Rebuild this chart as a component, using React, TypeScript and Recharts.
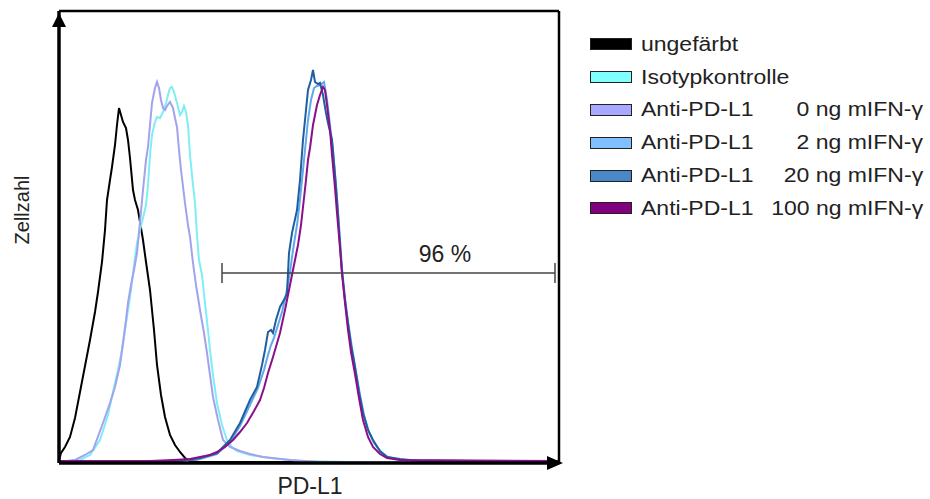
import React from "react";
import {
  LineChart,
  Line,
  XAxis,
  YAxis,
  ReferenceLine,
  ReferenceDot,
  Legend
} from "recharts";

type Pt = [number, number];

// channel (0-1000) vs. cell count
const ungefaerbt: Pt[] = [
  [0, 1.5], [4, 5], [12, 8], [22, 13], [32, 22.5], [42, 35.5], [52, 48.5], [62, 61.5],
  [72, 75.5], [78, 85.5], [86, 100.5], [92, 116.5], [96, 131.5], [102, 141.5], [106, 148],
  [112, 159], [116, 169], [120, 177.5], [124, 174], [128, 170.5], [134, 167.5], [138, 161.5],
  [142, 152.5], [148, 136.5], [152, 131.5], [158, 126.5], [164, 117.5], [168, 111.5],
  [174, 100.5], [182, 86.5], [190, 66.5], [196, 49], [204, 34], [212, 23], [222, 14],
  [232, 9], [242, 5.5], [252, 2.5], [262, 1], [282, 0.5], [1000, 0.3]
];

const isotyp: Pt[] = [
  [0, 0.5], [42, 1.5], [62, 4], [82, 11.5], [98, 24], [108, 35.5], [118, 46.5], [126, 56.5],
  [132, 66.5], [138, 76.5], [144, 86.5], [150, 99], [156, 110], [162, 116.5], [168, 122.5],
  [174, 129], [178, 139], [182, 154], [186, 164], [192, 170.5], [196, 173], [202, 172.5],
  [208, 175.5], [214, 180], [218, 184], [222, 187.5], [226, 188], [230, 185.5], [236, 180],
  [242, 174], [246, 175.5], [250, 178.5], [254, 175.5], [258, 169], [262, 154], [268, 139],
  [272, 130], [276, 114], [280, 101.5], [286, 94], [292, 80], [298, 66.5], [302, 56.5],
  [308, 44], [316, 30], [326, 19], [336, 11.5], [346, 8], [356, 6], [382, 4], [422, 2.5],
  [482, 1], [582, 0.5], [1000, 0.3]
];

const dose0: Pt[] = [
  [0, 0.5], [32, 1.5], [52, 4], [68, 6.5], [88, 20], [102, 30], [112, 38], [122, 49],
  [128, 60], [134, 71.5], [138, 80], [144, 89], [150, 96.5], [156, 105], [162, 120.5],
  [168, 136.5], [174, 151.5], [178, 158], [182, 169], [186, 180], [192, 187.5], [196, 190.5],
  [200, 187.5], [204, 181.5], [208, 177.5], [212, 176.5], [216, 178.5], [222, 180.5],
  [228, 177.5], [232, 172.5], [236, 168], [240, 156.5], [244, 146.5], [252, 130], [258, 119],
  [262, 113], [268, 100], [274, 89], [282, 76.5], [290, 65], [296, 55], [302, 44], [308, 33],
  [318, 21.5], [328, 11.5], [342, 8], [362, 6], [382, 4.5], [408, 3], [462, 1.5], [522, 0.5],
  [1000, 0.3]
];

const dose2: Pt[] = [
  [0, 0.5], [202, 0.5], [282, 2], [316, 4.5], [342, 10.5], [362, 18.5], [382, 29], [398, 37.5],
  [410, 46.5], [418, 54], [424, 59], [430, 62.5], [438, 69], [446, 75.5], [454, 84], [462, 95.5],
  [468, 106.5], [476, 119], [482, 131.5], [490, 151.5], [498, 171.5], [504, 181.5], [510, 187.5],
  [516, 188.5], [522, 189], [530, 190.5], [536, 181.5], [542, 169], [548, 156.5], [554, 139],
  [560, 119], [566, 97.5], [572, 82.5], [578, 70.5], [586, 57.5], [594, 45.5], [602, 34],
  [610, 24], [620, 15.5], [630, 10], [644, 5.5], [658, 3], [682, 1.5], [1000, 0.5]
];

const dose20: Pt[] = [
  [0, 0.5], [182, 0.5], [242, 1], [282, 2.5], [316, 5], [342, 11.5], [362, 20], [382, 31.5],
  [396, 38], [406, 49], [412, 56.5], [418, 65.5], [424, 66.5], [428, 65], [434, 71.5], [442, 78],
  [452, 82.5], [456, 85], [458, 95], [460, 105], [466, 115], [476, 126.5], [482, 141.5],
  [488, 161.5], [494, 176.5], [498, 186.5], [504, 191.5], [508, 196.5], [512, 190.5],
  [518, 189.5], [522, 190], [528, 184], [534, 175], [538, 170], [546, 161.5], [552, 144],
  [556, 131.5], [562, 109], [566, 95], [572, 81.5], [578, 70], [584, 59], [592, 48], [600, 35.5],
  [608, 25], [618, 16.5], [628, 11.5], [642, 6], [656, 3], [682, 2], [722, 1], [1000, 0.5]
];

const dose100: Pt[] = [
  [0, 1], [182, 1], [228, 1.5], [262, 2], [282, 3], [302, 4], [316, 5.5], [332, 8], [348, 11.5],
  [362, 15.5], [376, 20], [390, 26], [402, 31.5], [410, 37.5], [418, 45], [428, 53], [442, 65],
  [452, 76.5], [462, 89], [468, 96.5], [474, 104], [478, 109], [484, 119], [488, 128],
  [494, 141.5], [498, 151.5], [502, 157.5], [508, 169], [516, 179], [522, 184], [528, 188],
  [532, 186.5], [536, 179], [542, 166.5], [546, 154], [552, 137.5], [556, 125], [562, 107.5],
  [566, 95], [572, 80], [578, 66.5], [584, 55.5], [592, 44.5], [600, 32.5], [608, 21.5],
  [618, 13], [628, 8], [642, 4.5], [656, 2.5], [682, 1.5], [1000, 1]
];

const seriesData = [ungefaerbt, isotyp, dose0, dose2, dose20, dose100];
const seriesLabels = [
  "ungefärbt",
  "Isotypkontrolle",
  "Anti-PD-L1",
  "Anti-PD-L1",
  "Anti-PD-L1",
  "Anti-PD-L1"
];
const seriesDoses = ["", "", "0 ng mIFN-γ", "2 ng mIFN-γ", "20 ng mIFN-γ", "100 ng mIFN-γ"];
const lineColors = ["#000000", "#7eeef4", "#a2a2ee", "#5fa8ec", "#1f5f9f", "#8a0f8a"];
const swatchColors = ["#000000", "#80ffff", "#a8a8ff", "#80c0ff", "#4a86c8", "#800080"];

const xDomain = [0, 1000];
const yDomain = [0, 226];
const gateFrom = 326;
const gateTo = 992;
const gateLevel = 95;
const gateLabel = "96 %";
const gateLabelAt = 772;

const FONT = "'Liberation Sans', Arial, sans-serif";
const TEXT = "#222";

const toRows = (pts: Pt[]) => pts.map(([x, y]) => ({ x, y }));

const LegendBox = () => (
  <div style={{ fontFamily: FONT, fontSize: 20, color: TEXT }}>
    {seriesLabels.map((label, i) => (
      <div
        key={i}
        style={{ position: "relative", height: 32.8, display: "flex", alignItems: "center" }}
      >
        <span
          style={{
            display: "inline-block",
            width: 42,
            height: 12,
            marginLeft: 2,
            background: swatchColors[i],
            border: "1px solid #222",
            boxSizing: "border-box"
          }}
        />
        <span
          style={{
            display: "inline-block",
            marginLeft: 9,
            transform: "scaleX(1.15)",
            transformOrigin: "left center",
            whiteSpace: "nowrap"
          }}
        >
          {label}
        </span>
        {seriesDoses[i] && (
          <span
            style={{
              position: "absolute",
              right: 7,
              transform: "scaleX(1.15)",
              transformOrigin: "right center",
              whiteSpace: "nowrap"
            }}
          >
            {seriesDoses[i]}
          </span>
        )}
      </div>
    ))}
  </div>
);

export default function App() {
  return (
    <div
      style={{
        position: "absolute",
        left: 0,
        top: 0,
        width: 930,
        height: 499,
        background: "#fff"
      }}
    >
      <LineChart width={930} height={499} margin={{ top: 10, right: 370, bottom: 0, left: 0 }}>
        <XAxis
          xAxisId="b"
          type="number"
          dataKey="x"
          domain={xDomain}
          allowDataOverflow
          height={36}
          tick={false}
          tickLine={false}
          axisLine={{ stroke: "#000", strokeWidth: 3.5 }}
          label={{
            content: ({ viewBox }: any) => (
              <text
                x={viewBox.x + viewBox.width / 2 + 1}
                y={viewBox.y + 31}
                textAnchor="middle"
                fontFamily={FONT}
                fontSize={23}
                fill={TEXT}
              >
                PD-L1
              </text>
            )
          }}
        />
        <XAxis
          xAxisId="t"
          orientation="top"
          type="number"
          domain={xDomain}
          height={1}
          tick={false}
          tickLine={false}
          axisLine={{ stroke: "#000", strokeWidth: 2.5 }}
        />
        <YAxis
          yAxisId="l"
          type="number"
          domain={yDomain}
          allowDataOverflow
          width={59}
          tick={false}
          tickLine={false}
          axisLine={{ stroke: "#000", strokeWidth: 3.5 }}
          label={{
            content: ({ viewBox }: any) => (
              <text
                transform={`translate(${viewBox.x + 29}, ${viewBox.y + 199}) rotate(-90)`}
                textAnchor="middle"
                fontFamily={FONT}
                fontSize={20}
                fill={TEXT}
              >
                Zellzahl
              </text>
            )
          }}
        />
        <YAxis
          yAxisId="r"
          orientation="right"
          type="number"
          domain={yDomain}
          width={1}
          tick={false}
          tickLine={false}
          axisLine={{ stroke: "#000", strokeWidth: 2.5 }}
        />

        <Legend
          layout="vertical"
          align="center"
          verticalAlign="middle"
          wrapperStyle={{ left: 588, top: 28, width: 342, height: 200 }}
          content={() => <LegendBox />}
        />

        {seriesData.map((pts, i) => (
          <Line
            key={i}
            xAxisId="b"
            yAxisId="l"
            data={toRows(pts)}
            dataKey="y"
            name={`${seriesLabels[i]} ${seriesDoses[i]}`}
            type="linear"
            stroke={lineColors[i]}
            strokeWidth={2}
            dot={false}
            activeDot={false}
            isAnimationActive={false}
          />
        ))}

        {/* gate */}
        <ReferenceLine
          xAxisId="b"
          yAxisId="l"
          segment={[{ x: gateFrom, y: gateLevel }, { x: gateTo, y: gateLevel }]}
          stroke="#444"
          strokeWidth={1.5}
        />
        <ReferenceLine
          xAxisId="b"
          yAxisId="l"
          segment={[{ x: gateFrom, y: gateLevel - 5 }, { x: gateFrom, y: gateLevel + 5 }]}
          stroke="#444"
          strokeWidth={1.5}
        />
        <ReferenceLine
          xAxisId="b"
          yAxisId="l"
          segment={[{ x: gateTo, y: gateLevel - 5 }, { x: gateTo, y: gateLevel + 5 }]}
          stroke="#444"
          strokeWidth={1.5}
        />
        <ReferenceDot
          xAxisId="b"
          yAxisId="l"
          x={gateLabelAt}
          y={gateLevel + 5.5}
          r={0}
          shape={(p: any) => (
            <text
              x={p.cx}
              y={p.cy}
              textAnchor="middle"
              fontFamily={FONT}
              fontSize={23}
              fill={TEXT}
            >
              {gateLabel}
            </text>
          )}
        />

        {/* axis arrow heads */}
        <ReferenceDot
          xAxisId="b"
          yAxisId="l"
          x={xDomain[0]}
          y={yDomain[1]}
          r={0}
          shape={(p: any) => (
            <path
              d={`M${p.cx},${p.cy + 2} L${p.cx - 7},${p.cy + 16} L${p.cx + 7},${p.cy + 16} Z`}
              fill="#000"
            />
          )}
        />
        <ReferenceDot
          xAxisId="b"
          yAxisId="l"
          x={xDomain[1]}
          y={yDomain[0]}
          r={0}
          shape={(p: any) => (
            <path
              d={`M${p.cx + 4},${p.cy} L${p.cx - 12},${p.cy - 7} L${p.cx - 12},${p.cy + 7} Z`}
              fill="#000"
            />
          )}
        />
      </LineChart>
    </div>
  );
}
